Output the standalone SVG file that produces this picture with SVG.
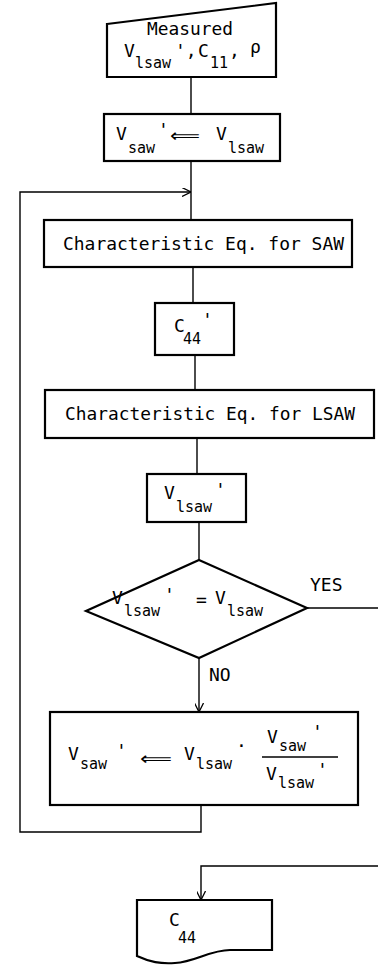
<svg xmlns="http://www.w3.org/2000/svg" width="378" height="965" viewBox="0 0 378 965">
<style>
.box{fill:#fff;stroke:#000;stroke-width:2.2}
.ln{fill:none;stroke:#000;stroke-width:1.4}
.t{font-family:"DejaVu Sans Mono","Liberation Mono",monospace;font-size:18px;fill:#000}
.s{font-size:15px}
.ar{font-family:"DejaVu Sans","Liberation Sans",sans-serif;font-size:18px}
</style>
<defs>
<marker id="ah" viewBox="0 0 10 10" refX="10" refY="5" markerWidth="9" markerHeight="9" orient="auto" markerUnits="userSpaceOnUse">
<path d="M0,0 L10,5 L0,10" fill="none" stroke="#000" stroke-width="1.4"/>
</marker>
</defs>
<rect width="378" height="965" fill="#fff"/>
<g id="connectors">
<path class="ln" d="M191,77 V114"/>
<path class="ln" d="M191,161 V220"/>
<path class="ln" d="M193,267 V303"/>
<path class="ln" d="M195,355 V390"/>
<path class="ln" d="M197,438 V474"/>
<path class="ln" d="M199,522 V560"/>
<path class="ln" d="M199,658 V712" marker-end="url(#ah)"/>
<path class="ln" d="M201,805 V832 H20 V192 H191" marker-end="url(#ah)"/>
<path class="ln" d="M307,608 H378"/>
<path class="ln" d="M378,866 H201 V900" marker-end="url(#ah)"/>
</g>
<g id="measured">
<polygon class="box" points="107,24 276,3 276,77 107,77"/>
<text class="t" x="147" y="35" font-size="19" textLength="86" lengthAdjust="spacingAndGlyphs">Measured</text>
<text class="t"><tspan x="124" y="57">V</tspan><tspan class="s" x="135" y="68">lsaw</tspan><tspan x="175" y="57">',</tspan><tspan x="198" y="57">C</tspan><tspan class="s" x="210" y="68">11</tspan><tspan x="229" y="57">,</tspan><tspan x="250" y="53">ρ</tspan></text>
</g>
<g id="init">
<rect class="box" x="104" y="114" width="176" height="47"/>
<text class="t"><tspan x="116" y="140">V</tspan><tspan class="s" x="128" y="153">saw</tspan><tspan x="158" y="136">'</tspan></text>
<text class="ar" x="170" y="142" textLength="30" lengthAdjust="spacingAndGlyphs">⟸</text>
<text class="t"><tspan x="216" y="140">V</tspan><tspan class="s" x="228" y="153">lsaw</tspan></text>
</g>
<g id="chsaw">
<rect class="box" x="44" y="220" width="308" height="47"/>
<text class="t" x="63" y="250" font-size="19" textLength="281" lengthAdjust="spacingAndGlyphs">Characteristic Eq. for SAW</text>
</g>
<g id="c44p">
<rect class="box" x="155" y="303" width="79" height="52"/>
<text class="t"><tspan x="174" y="332">C</tspan><tspan class="s" x="183" y="344">44</tspan><tspan x="202" y="326">'</tspan></text>
</g>
<g id="chlsaw">
<rect class="box" x="45" y="390" width="329" height="48"/>
<text class="t" x="65" y="420" font-size="19" textLength="290" lengthAdjust="spacingAndGlyphs">Characteristic Eq. for LSAW</text>
</g>
<g id="vlsawp">
<rect class="box" x="147" y="474" width="99" height="48"/>
<text class="t"><tspan x="164" y="499">V</tspan><tspan class="s" x="176" y="512">lsaw</tspan><tspan x="215" y="496">'</tspan></text>
</g>
<g id="decision">
<polygon class="box" points="199,560 307,608 199,658 86,611"/>
<text class="t"><tspan x="112" y="604">V</tspan><tspan class="s" x="124" y="616">lsaw</tspan><tspan x="164" y="601">'</tspan><tspan x="196" y="606">=</tspan><tspan x="215" y="604">V</tspan><tspan class="s" x="227" y="616">lsaw</tspan></text>
<text class="t" x="310" y="591" font-size="16">YES</text>
<text class="t" x="209" y="681" font-size="16">NO</text>
</g>
<g id="update">
<rect class="box" x="50" y="712" width="308" height="93"/>
<text class="t"><tspan x="68" y="760">V</tspan><tspan class="s" x="80" y="769">saw</tspan><tspan x="116" y="757">'</tspan></text>
<text class="ar" x="140" y="765" textLength="32" lengthAdjust="spacingAndGlyphs">⟸</text>
<text class="t"><tspan x="184" y="760">V</tspan><tspan class="s" x="196" y="769">lsaw</tspan><tspan x="236" y="752">·</tspan></text>
<text class="t"><tspan x="267" y="743">V</tspan><tspan class="s" x="279" y="751">saw</tspan><tspan x="312" y="738">'</tspan></text>
<path class="ln" d="M262,757 H338"/>
<text class="t"><tspan x="266" y="780">V</tspan><tspan class="s" x="278" y="788">lsaw</tspan><tspan x="317" y="776">'</tspan></text>
</g>
<g id="output">
<path class="box" d="M137,900 H272 V950 L230,950 C210,950 195,962 175,963 C160,964 150,962 137,956 Z"/>
<text class="t"><tspan x="169" y="926">C</tspan><tspan class="s" x="178" y="943">44</tspan></text>
</g>
</svg>
